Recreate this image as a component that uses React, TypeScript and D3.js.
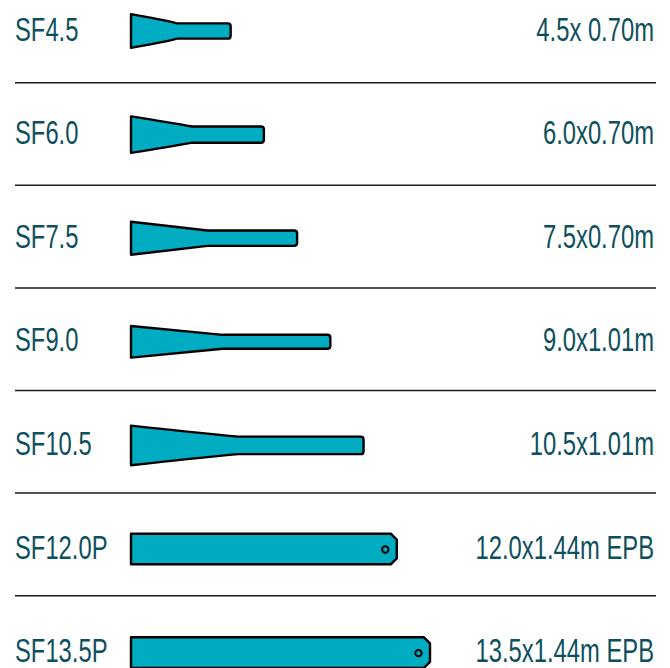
import React from "react";
import * as d3 from "d3";

const names = ["SF4.5", "SF6.0", "SF7.5", "SF9.0", "SF10.5", "SF12.0P", "SF13.5P"];
const sizeLabels = [
  "4.5x 0.70m",
  "6.0x0.70m",
  "7.5x0.70m",
  "9.0x1.01m",
  "10.5x1.01m",
  "12.0x1.44m EPB",
  "13.5x1.44m EPB",
];
// length in metres
const lengths = [4.5, 6.0, 7.5, 9.0, 10.5, 12.0, 13.5];
// drawn widths (m): head (wide end) and tail (pole)
const headWidths = [1.52, 1.65, 1.49, 1.43, 1.79, 1.38, 1.38];
const tailWidths = [0.69, 0.73, 0.69, 0.63, 0.79, 1.38, 1.38];
const isEPB = [false, false, false, false, false, true, true];

const W = 670;
const H = 668;
const TEXT = "#0e4f5e";
const FILL = "#00acc1";
const FONT = "'Liberation Sans', Arial, sans-serif";
const SX = 0.7;
const FS = 34;

export default function App() {
  const x = d3.scaleLinear().domain([0, 13.5]).range([131, 430]);
  const k = x(1) - x(0);
  const row = d3.scaleLinear().domain([0, 6]).range([31, 31 + 6 * 103.6]);
  const sep = d3.scaleLinear().domain([0, 5]).range([82.7, 595.7]);

  const flagPath = (i: number) => {
    const cy = row(i);
    const x0 = x(0);
    const xe = x(lengths[i]);
    const hh = (headWidths[i] * k) / 2;
    const th = (tailWidths[i] * k) / 2;
    const p = d3.path();
    if (isEPB[i]) {
      const c = 6;
      p.moveTo(x0, cy - th);
      p.lineTo(xe - c, cy - th);
      p.lineTo(xe, cy - th + c);
      p.lineTo(xe, cy + th - c);
      p.lineTo(xe - c, cy + th);
      p.lineTo(x0, cy + th);
      p.closePath();
    } else {
      const xn = x0 + (xe - x0) * 0.46;
      const r = 3;
      p.moveTo(x0, cy - hh);
      p.quadraticCurveTo((x0 + xn) / 2 + 10, cy - th - (hh - th) * 0.38, xn, cy - th);
      p.lineTo(xe - r, cy - th);
      p.quadraticCurveTo(xe, cy - th, xe, cy - th + r);
      p.lineTo(xe, cy + th - r);
      p.quadraticCurveTo(xe, cy + th, xe - r, cy + th);
      p.lineTo(xn, cy + th);
      p.quadraticCurveTo((x0 + xn) / 2 + 10, cy + th + (hh - th) * 0.38, x0, cy + hh);
      p.closePath();
    }
    return p.toString();
  };

  return (
    <svg width={W} height={H} style={{ position: "absolute", left: 0, top: 0 }}>
      <rect width={W} height={H} fill="#fff" />
      {d3.range(names.length - 1).map((i) => (
        <line
          key={`s${i}`}
          x1={15}
          x2={656}
          y1={sep(i)}
          y2={sep(i)}
          stroke="#1a1a1a"
          strokeWidth={1.5}
        />
      ))}
      {names.map((n, i) => (
        <g key={n}>
          <g transform={`translate(15,${row(i) + 9.5}) scale(${SX},1)`}>
            <text x={0} y={0} fill={TEXT} fontFamily={FONT} fontSize={FS}>
              {n}
            </text>
          </g>
          <g transform={`translate(654,${row(i) + 9.5}) scale(${SX},1)`}>
            <text
              x={0}
              y={0}
              fill={TEXT}
              fontFamily={FONT}
              fontSize={FS}
              textAnchor="end"
            >
              {sizeLabels[i]}
            </text>
          </g>
          <path
            d={flagPath(i)}
            fill={FILL}
            stroke="#000"
            strokeWidth={2.4}
            strokeLinejoin="round"
          />
          {isEPB[i] && (
            <circle
              cx={x(lengths[i]) - 11.5}
              cy={row(i) + 0.5}
              r={3.2}
              fill={FILL}
              stroke="#000"
              strokeWidth={2}
            />
          )}
        </g>
      ))}
    </svg>
  );
}
